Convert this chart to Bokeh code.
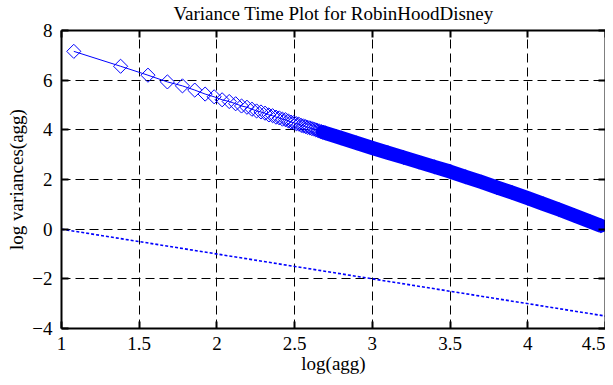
import numpy as np
from bokeh.plotting import figure
from bokeh.models import Range1d, FixedTicker, LinearAxis, ColumnDataSource, Title
from bokeh.embed import file_html
from bokeh.resources import INLINE

# ---- data ----
title_text = "Variance Time Plot for RobinHoodDisney"
x_label = "log(agg)"
y_label = "log variances(agg)"

# aggregation levels of the separately visible markers
agg_levels = [12, 24, 36, 48, 60, 72, 84, 96, 108, 120,
              132, 144, 156, 168, 180, 192, 204, 216, 228, 240,
              252, 264, 276, 288, 300, 312, 324, 336, 348, 360,
              372, 384, 396, 408, 420, 432, 444, 456, 468, 480]
log_var = [7.16, 6.56, 6.20, 5.93, 5.77, 5.60, 5.44, 5.33, 5.21, 5.14,
           5.05, 4.96, 4.91, 4.83, 4.76, 4.72, 4.67, 4.60, 4.57, 4.51,
           4.48, 4.43, 4.41, 4.36, 4.31, 4.29, 4.25, 4.23, 4.18, 4.16,
           4.13, 4.10, 4.08, 4.05, 4.03, 4.00, 3.98, 3.95, 3.93, 3.91]

# dense part of the series (overlapping markers form a solid band)
dense_log_agg = [2.70, 2.80, 2.90, 3.00, 3.10, 3.20, 3.30, 3.40, 3.50,
                 3.60, 3.70, 3.80, 3.90, 4.00, 4.10, 4.20, 4.30, 4.40, 4.47]
dense_log_var = [3.87, 3.67, 3.47, 3.27, 3.08, 2.89, 2.70, 2.51, 2.32,
                 2.11, 1.90, 1.68, 1.47, 1.25, 1.02, 0.79, 0.55, 0.31, 0.14]

# reference line (slope -1)
ref_log_agg = [1.0, 4.5]
ref_log_var = [0.0, -3.5]

x_ticks = [1, 1.5, 2, 2.5, 3, 3.5, 4, 4.5]
x_tick_labels = ["1", "1.5", "2", "2.5", "3", "3.5", "4", "4.5"]
y_ticks = [-4, -2, 0, 2, 4, 6, 8]
y_tick_labels = ["\u22124", "\u22122", "0", "2", "4", "6", "8"]

X_MIN, X_MAX = 1, 4.5
Y_MIN, Y_MAX = -4, 8

BLUE = "#0000ff"
FONT = "Liberation Serif"
FS = "19px"

sparse_x = list(np.log10(agg_levels))
all_x = sparse_x + dense_log_agg
all_y = log_var + dense_log_var

p = figure(width=605, height=377, x_range=Range1d(X_MIN, X_MAX), y_range=Range1d(Y_MIN, Y_MAX),
           output_backend="svg", toolbar_location=None, title=None,
           min_border_left=61, min_border_right=0, min_border_top=30, min_border_bottom=49)
p.background_fill_color = "white"
p.border_fill_color = "white"
p.outline_line_color = None

def style_axis(ax, ticks, labels, show_labels):
    ax.ticker = FixedTicker(ticks=ticks)
    ax.axis_line_width = 2
    ax.axis_line_color = "black"
    ax.major_tick_in = 7
    ax.major_tick_out = 0
    ax.major_tick_line_width = 2
    ax.major_tick_line_color = "black"
    ax.minor_tick_line_color = None
    ax.major_label_text_font = FONT
    if show_labels:
        ax.major_label_overrides = dict(zip(ticks, labels))
        ax.major_label_text_font_size = FS
        ax.major_label_text_color = "black"
    else:
        ax.major_label_text_font_size = "1px"
        ax.major_label_text_color = None
        ax.major_label_standoff = 0

xa = p.xaxis[0]
ya = p.yaxis[0]
style_axis(xa, x_ticks, x_tick_labels, True)
style_axis(ya, y_ticks, y_tick_labels, True)
xa.major_label_standoff = 8
ya.major_label_standoff = 9
for ax, lab in ((xa, x_label), (ya, y_label)):
    ax.axis_label = lab
    ax.axis_label_text_font = FONT
    ax.axis_label_text_font_size = FS
    ax.axis_label_text_font_style = "normal"
    ax.axis_label_text_color = "black"
xa.axis_label_standoff = 0
ya.axis_label_standoff = 2

# top and right frame edges with inward ticks
top_ax = LinearAxis()
style_axis(top_ax, x_ticks, x_tick_labels, False)
p.add_layout(top_ax, "above")
right_ax = LinearAxis()
style_axis(right_ax, y_ticks, y_tick_labels, False)
p.add_layout(right_ax, "right")

# invisible spacer between the frame and the title
spacer_ax = LinearAxis()
style_axis(spacer_ax, x_ticks, x_tick_labels, False)
spacer_ax.major_tick_in = 0
spacer_ax.major_tick_out = 7
spacer_ax.major_tick_line_color = None
spacer_ax.axis_line_color = None
p.add_layout(spacer_ax, "above")

p.add_layout(Title(text=title_text, text_font=FONT, text_font_size=FS,
                   text_font_style="normal", text_color="black",
                   align="center", standoff=0), "above")

for g in (p.xgrid[0], p.ygrid[0]):
    g.grid_line_color = "black"
    g.grid_line_width = 1
    g.grid_line_dash = "9 5"
p.xgrid[0].ticker = FixedTicker(ticks=x_ticks)
p.ygrid[0].ticker = FixedTicker(ticks=y_ticks)

# reference dotted line
p.line(ref_log_agg, ref_log_var, line_color=BLUE, line_width=1.6, line_dash="3 2")

# solid band of densely overlapping markers
band = ColumnDataSource(dict(x=[sparse_x[-1]] + dense_log_agg, y=[log_var[-1]] + dense_log_var))
p.line("x", "y", source=band, line_color=BLUE, line_width=14, line_cap="round", line_join="round")

# connecting line and diamond markers
src = ColumnDataSource(dict(x=all_x, y=all_y))
p.line("x", "y", source=src, line_color=BLUE, line_width=1)
p.scatter("x", "y", source=src, marker="square", angle=np.pi / 4, size=10,
          fill_color=None, line_color=BLUE, line_width=1)

open("out.html", "w").write(file_html(p, INLINE))
